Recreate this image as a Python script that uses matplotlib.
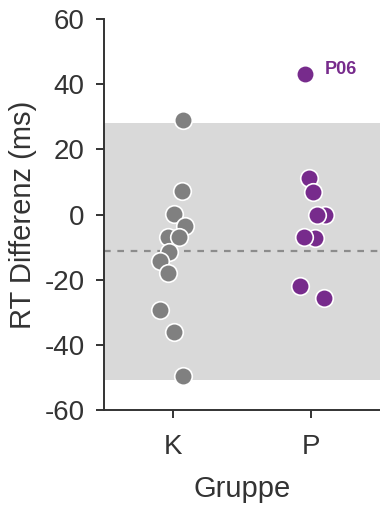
import numpy as np
import matplotlib.pyplot as plt

plt.rcParams['font.family'] = ['Liberation Sans', 'DejaVu Sans']
plt.rcParams['axes.unicode_minus'] = False

# RT difference per participant, group K (control) and P (patients)
groups = ['K', 'P']
rt_k = [29, 7.2, 0.2, -3.4, -7, -6.8, -11.6, -14.2, -18, -29.2, -36, -49.5]
rt_p = [43.1, 11.2, 6.9, 0, 0, -7.2, -7, -21.8, -25.6]
# strip jitter (category units)
jit_k = [0.07, 0.063, 0.01, 0.087, -0.034, 0.043, -0.027, -0.094, -0.034, -0.094, 0.007, 0.07]
jit_p = [-0.04, -0.018, 0.018, 0.10, 0.047, 0.03, -0.05, -0.08, 0.094]

# control mean and normal range
k_mean = -11.1
k_range = (-50.8, 28.2)
outlier_label = 'P06'

col_k = '#808080'
col_p = '#772b8c'
txt = '#333333'

fig = plt.figure(figsize=(3.8, 5.05), dpi=100)
ax = fig.add_axes([0.2737, 0.188, 0.7263, 0.7744])

ax.axhspan(k_range[0], k_range[1], color='#d9d9d9', lw=0, zorder=0)
ax.axhline(k_mean, color='#8c8c8c', ls=(0, (3, 3)), lw=1.6, zorder=1)

ax.scatter(np.zeros(len(rt_k)) + np.array(jit_k), rt_k, s=160, color=col_k,
           edgecolor='white', linewidth=1.2, zorder=3)
ax.scatter(np.ones(len(rt_p)) + np.array(jit_p), rt_p, s=160, color=col_p,
           edgecolor='white', linewidth=1.2, zorder=3)

ax.annotate(outlier_label, (1 + jit_p[0], rt_p[0]), xytext=(14, 3),
            textcoords='offset points', color=col_p, fontsize=13,
            fontweight='bold', va='center', ha='left')

ax.set_xlim(-0.5, 1.5)
ax.set_ylim(-60, 60)
ax.set_xticks([0, 1])
ax.set_xticklabels(groups)
ax.set_yticks(np.arange(-60, 61, 20))
ax.set_xlabel('Gruppe', fontsize=21, color=txt, labelpad=11)
ax.set_ylabel('RT Differenz (ms)', fontsize=21, color=txt, labelpad=5)

for s in ['top', 'right']:
    ax.spines[s].set_visible(False)
for s in ['left', 'bottom']:
    ax.spines[s].set_color(txt)
    ax.spines[s].set_linewidth(1.4)
ax.tick_params(labelsize=20, colors=txt, length=6, width=1.4)
ax.tick_params(axis='x', pad=11)
ax.tick_params(axis='y', pad=8)

fig.savefig('out.png', dpi=100)
